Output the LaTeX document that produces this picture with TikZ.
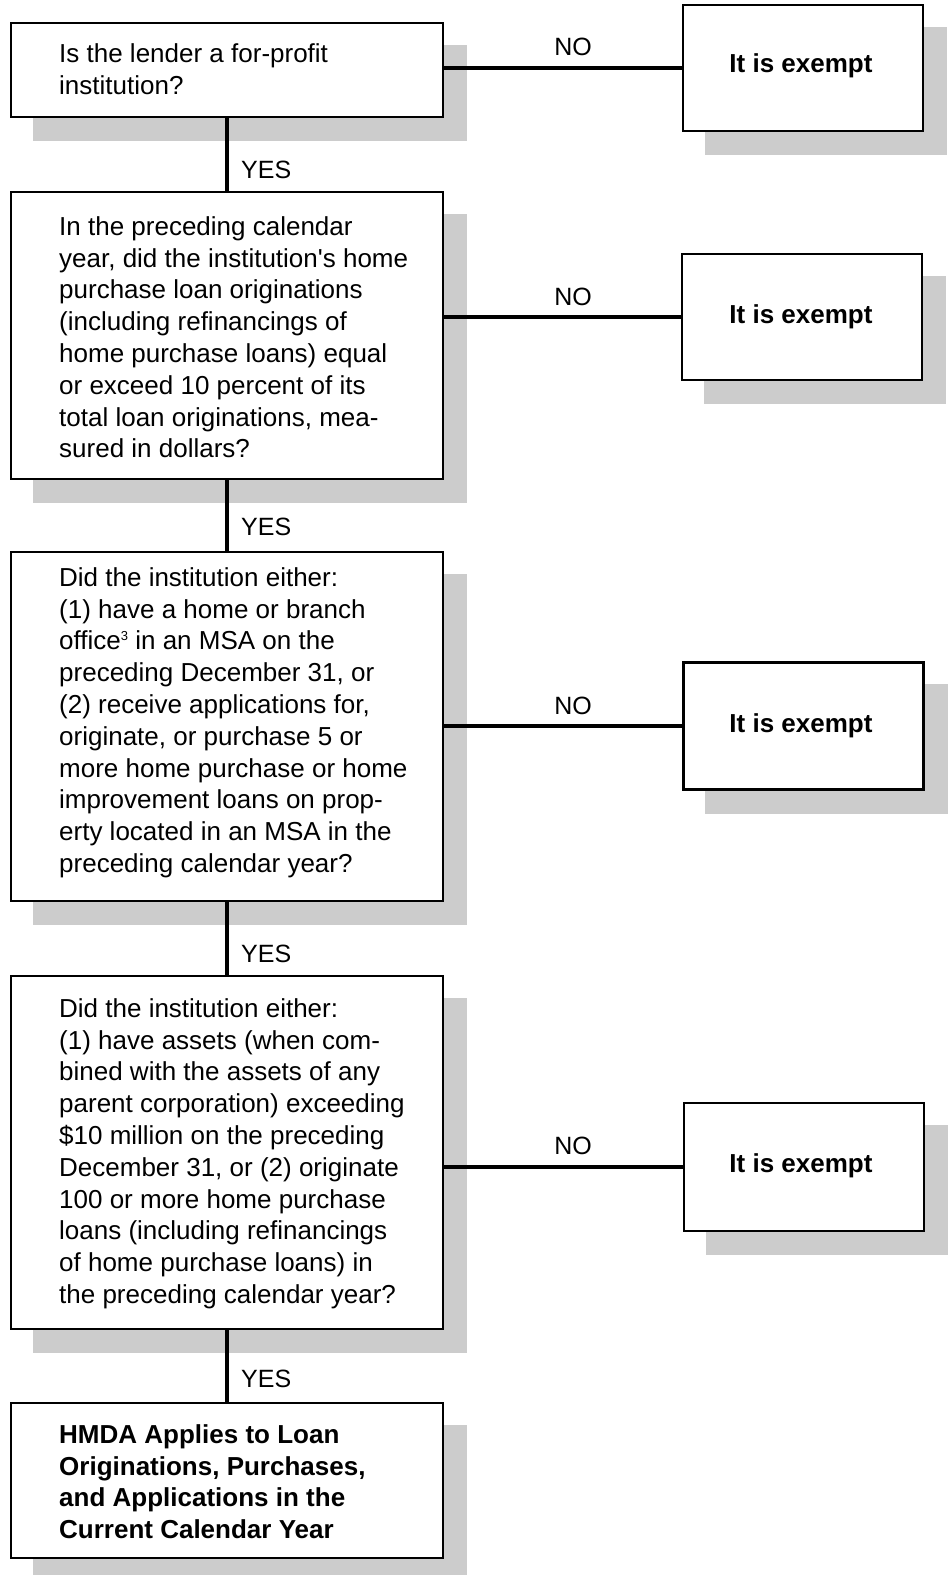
\documentclass[tikz,border=0pt]{standalone}
\usepackage{fontspec}
\setmainfont{Liberation Sans}
\usetikzlibrary{backgrounds}
\definecolor{shadowgray}{HTML}{CCCCCC}
\newcommand{\smallsup}[1]{\raisebox{9pt}{\fontsize{13}{13}\selectfont #1}}
\begin{document}
\begin{tikzpicture}[x=1pt,y=-1pt,
  frame/.style={draw=black, line width=2.4pt, fill=white, inner sep=0pt, minimum width=432pt},
  exframe/.style={draw=black, line width=2.4pt, fill=white, inner sep=0pt, minimum width=240pt},
  body/.style={anchor=north west, inner sep=0pt, align=left, font=\fontsize{26}{31.8}\selectfont},
  boldbody/.style={body, font=\fontsize{26}{31.8}\selectfont\bfseries},
  extext/.style={anchor=base, inner sep=0pt, font=\fontsize{26}{31.8}\selectfont\bfseries},
  yeslabel/.style={anchor=base west, inner sep=0pt, font=\fontsize{25}{30}\selectfont},
  nolabel/.style={anchor=base, inner sep=0pt, font=\fontsize{25}{30}\selectfont},
  conn/.style={line width=4.6pt},
]
\useasboundingbox (0,0) rectangle (950,1575);

% question / result boxes
\node[frame, minimum height=94pt]  (b1) at (227,70) {};
\node[frame, minimum height=287pt] (b2) at (227,335.5) {};
\node[frame, minimum height=349pt] (b3) at (227,726.5) {};
\node[frame, minimum height=353pt] (b4) at (227,1152.5) {};
\node[frame, minimum height=155pt] (b5) at (227,1480.5) {};

% exempt boxes
\node[exframe, minimum height=126pt] (e1) at (803,68) {};
\node[exframe, minimum height=126pt] (e2) at (802,317) {};
\node[exframe, minimum height=127pt] (e3) at (803.5,726) {};
\node[exframe, minimum height=128pt] (e4) at (804,1167) {};

% texts
\node[body] (t1) at (59,40.3) {\rule{0pt}{22pt}Is the lender a for-profit\\institution?};
\node[body] (t2) at (59,213) {\rule{0pt}{22pt}In the preceding calendar\\year, did the institution\textquotesingle s home\\purchase loan originations\\(including refinancings of\\home purchase loans) equal\\or exceed 10 percent of its\\total loan originations, mea-\\sured in dollars?};
\node[body] (t3) at (59,564) {\rule{0pt}{22pt}Did the institution either:\\(1) have a home or branch\\office\smallsup{3} in an MSA on the\\preceding December 31, or\\(2) receive applications for,\\originate, or purchase 5 or\\more home purchase or home\\improvement loans on prop-\\erty located in an MSA in the\\preceding calendar year?};
\node[body] (t4) at (59,995) {\rule{0pt}{22pt}Did the institution either:\\(1) have assets (when com-\\bined with the assets of any\\parent corporation) exceeding\\\$10 million on the preceding\\December 31, or (2) originate\\100 or more home purchase\\loans (including refinancings\\of home purchase loans) in\\the preceding calendar year?};
\node[boldbody] (t5) at (59,1421) {\rule{0pt}{22pt}HMDA Applies to Loan\\Originations, Purchases,\\and Applications in the\\Current Calendar Year};

\node[extext] (x1) at (801,72) {It is exempt};
\node[extext] (x2) at (801,323) {It is exempt};
\node[extext] (x3) at (801,732) {It is exempt};
\node[extext] (x4) at (801,1172) {It is exempt};

% labels
\node[yeslabel] (y1) at (241,178) {YES};
\node[yeslabel] (y2) at (241,535) {YES};
\node[yeslabel] (y3) at (241,962) {YES};
\node[yeslabel] (y4) at (241,1387) {YES};
\node[nolabel] (n1) at (573,55) {NO};
\node[nolabel] (n2) at (573,305) {NO};
\node[nolabel] (n3) at (573,714) {NO};
\node[nolabel] (n4) at (573,1154) {NO};

% connectors
\draw[conn] (b1.south) -- (b2.north);
\draw[conn] (b2.south) -- (b3.north);
\draw[conn] (b3.south) -- (b4.north);
\draw[conn] (b4.south) -- (b5.north);
\draw[conn] (e1.west) -- (e1.west -| b1.east);
\draw[conn] (e2.west) -- (e2.west -| b2.east);
\draw[conn] (e3.west) -- (e3.west -| b3.east);
\draw[conn] (e4.west) -- (e4.west -| b4.east);

% shadows
\begin{pgfonlayer}{background}
  \fill[white] (0,0) rectangle (950,1575);
  \foreach \n in {b1,b2,b3,b4,b5,e1,e2,e3,e4}
    \fill[shadowgray] ([shift={(23,23)}]\n.south west) rectangle ([shift={(23,23)}]\n.north east);
\end{pgfonlayer}
\end{tikzpicture}
\end{document}
